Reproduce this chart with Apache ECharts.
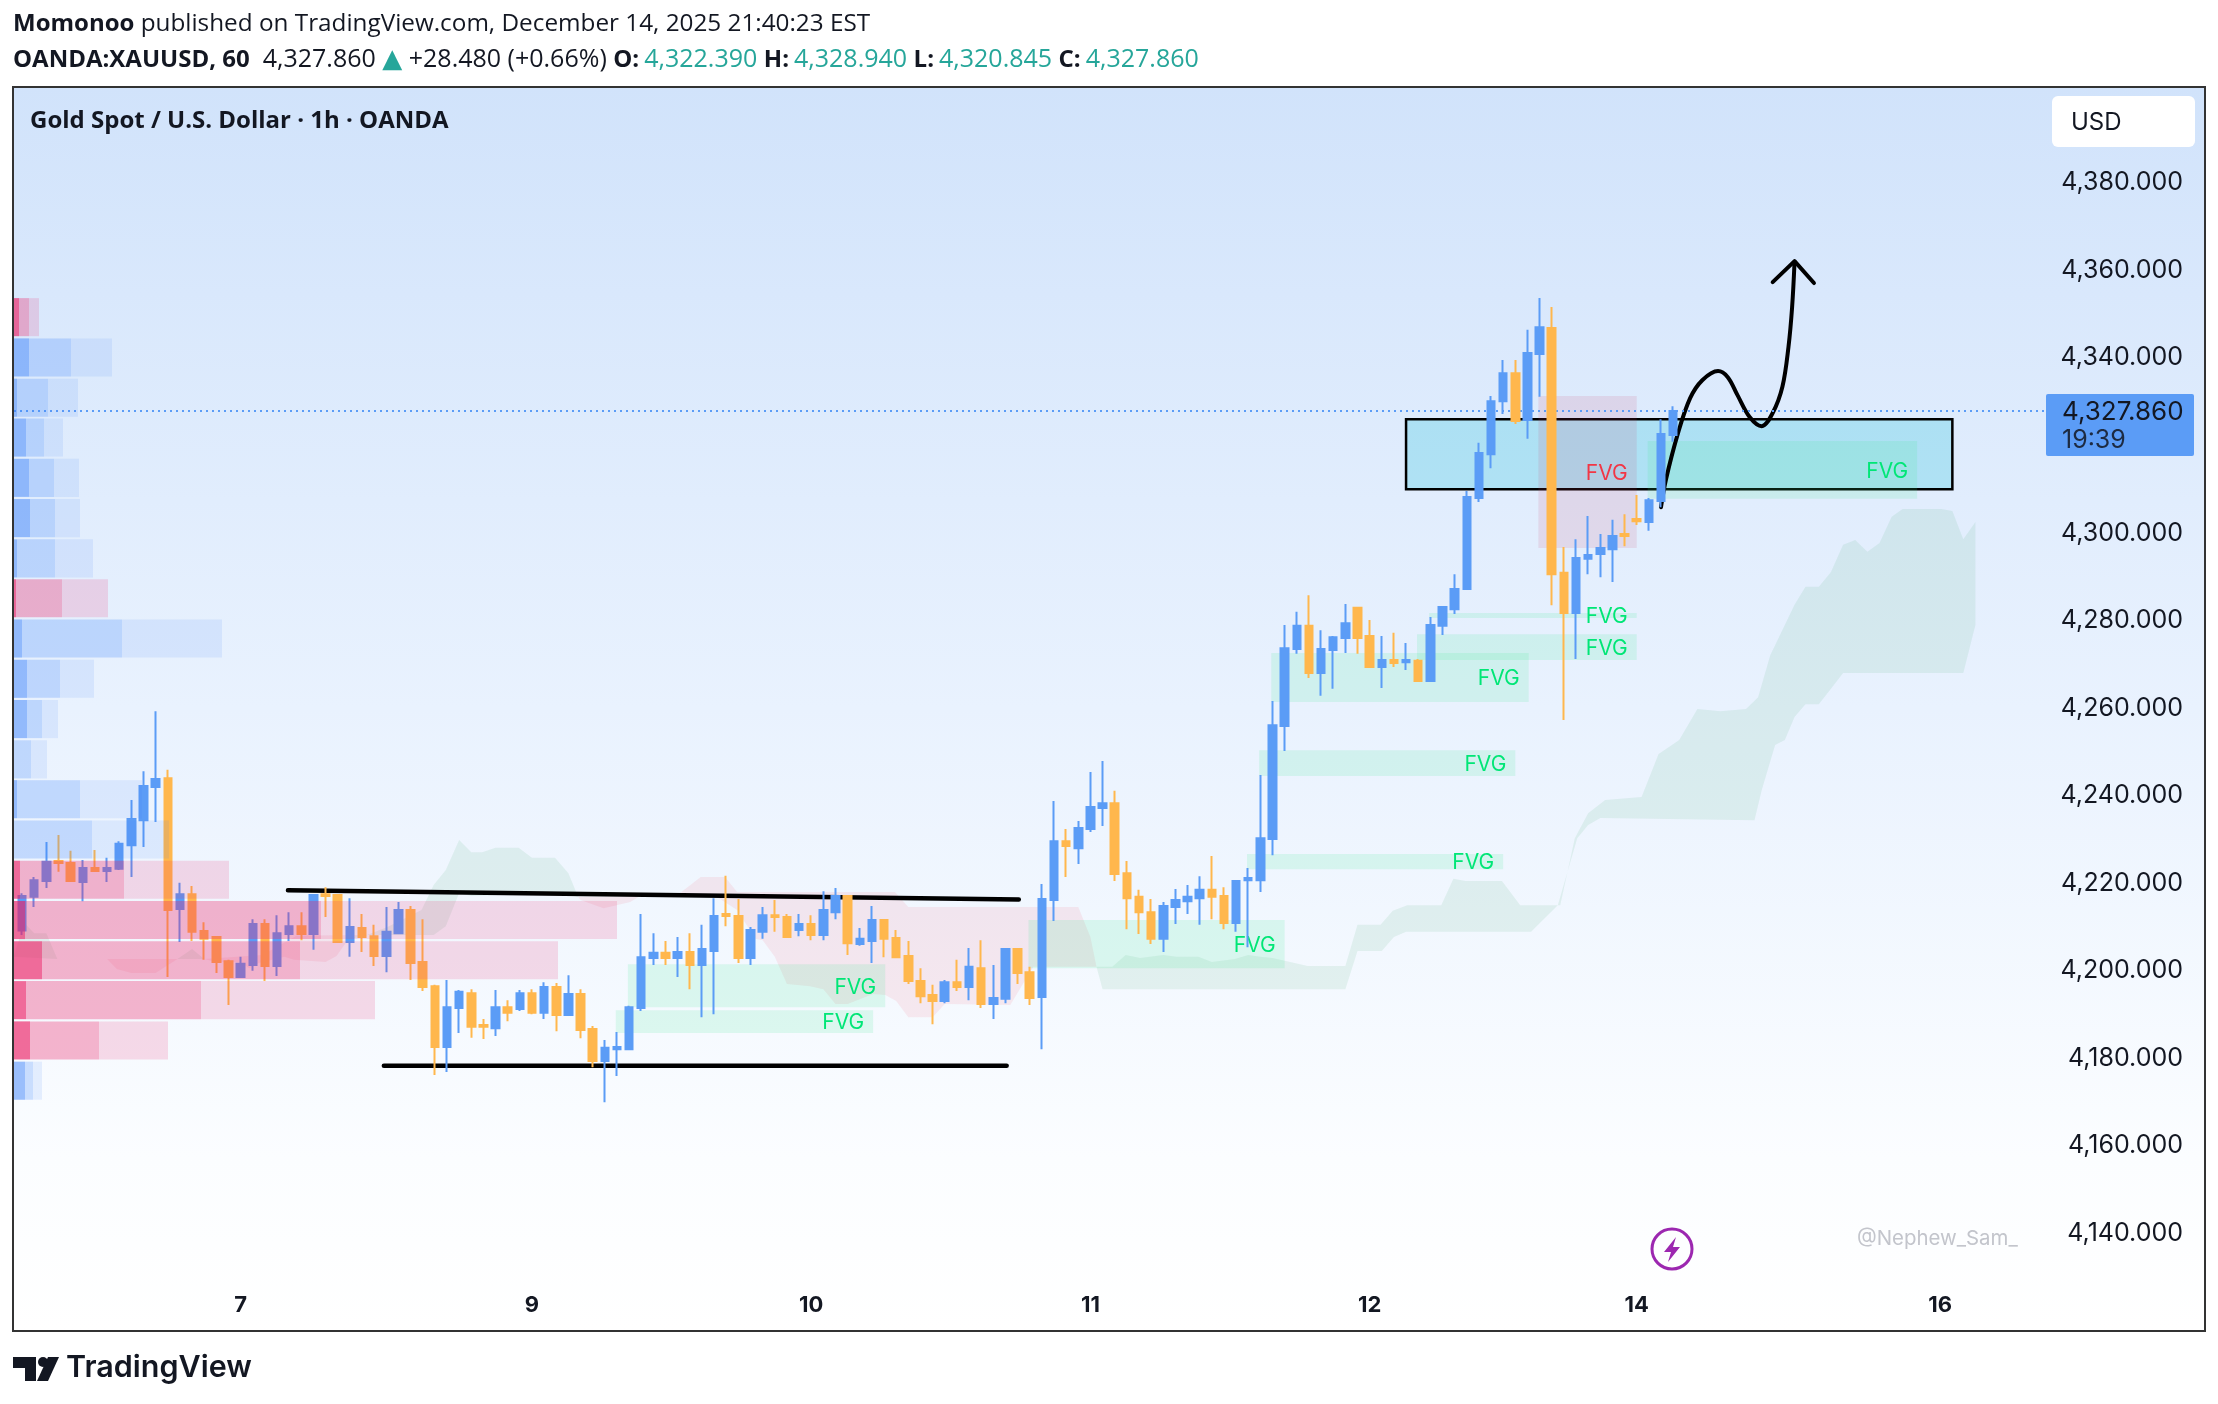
<!DOCTYPE html>
<html>
<head>
<meta charset="utf-8">
<title>XAUUSD 1h</title>
<script src="https://cdn.jsdelivr.net/npm/echarts@6/dist/echarts.min.js"></script>
<style>
html, body { margin: 0; padding: 0; background: #fff; }
#chart { width: 2218px; height: 1404px; }
</style>
</head>
<body>
<div id="chart"></div>
<script>
// hourly candles, one entry per bar
var candleOpen = [
    4209.2,4216.9,4220.5,4225.1,4224.6,4220.3,4223.5,4222.8,4223.3,4228.7,
    4234.4,4242.0,4244.0,4214.1,4217.5,4209.1,4207.7,4202.2,4198.6,4201.3,
    4210.7,4201.1,4208.4,4210.2,4208.4,4217.5,4217.3,4206.6,4209.8,4207.9,
    4203.4,4208.6,4213.9,4202.0,4196.5,4182.6,4191.5,4194.9,4187.6,4186.9,
    4191.7,4191.3,4194.9,4190.4,4196.3,4189.9,4194.7,4186.7,4179.4,4182.1,
    4182.1,4191.5,4202.9,4204.1,4202.9,4204.3,4201.3,4204.5,4213.0,4212.5,
    4202.9,4208.9,4212.7,4212.3,4209.3,4210.7,4208.2,4213.4,4217.1,4206.1,
    4206.8,4211.6,4207.5,4203.4,4197.7,4194.5,4193.1,4197.4,4196.3,4200.6,
    4192.4,4193.6,4205.0,4199.7,4194.0,4216.2,4229.6,4228.0,4232.4,4237.2,
    4238.3,4222.3,4216.9,4213.4,4207.3,4214.6,4215.9,4216.6,4218.5,4217.1,
    4210.9,4220.7,4220.7,4230.1,4255.9,4273.5,4278.8,4268.0,4273.3,4276.0,
    4282.9,4276.5,4269.4,4271.0,4270.5,4270.8,4266.2,4278.8,4282.6,4287.2,
    4308.0,4318.0,4330.1,4336.5,4325.8,4340.9,4346.8,4290.9,4281.7,4294.1,
    4295.2,4296.3,4299.8,4303.2,4302.5,4307.3,4322.39
];
var candleClose = [
    4217.1,4220.7,4224.9,4224.6,4220.5,4223.5,4222.8,4223.5,4229.0,4234.7,
    4242.2,4243.8,4213.9,4217.5,4208.9,4207.3,4202.0,4198.6,4201.6,4210.7,
    4201.1,4208.6,4210.2,4208.4,4217.3,4217.1,4206.6,4210.0,4207.7,4203.4,
    4208.9,4213.9,4201.8,4196.3,4182.6,4191.7,4195.2,4187.2,4187.2,4191.7,
    4190.4,4194.9,4190.4,4196.3,4189.9,4194.7,4186.5,4179.4,4182.4,4182.6,
    4191.7,4203.1,4204.1,4202.9,4204.3,4201.3,4205.0,4212.5,4212.5,4202.9,
    4209.3,4212.7,4212.3,4207.7,4210.7,4208.2,4213.9,4217.1,4206.3,4207.3,
    4211.6,4207.3,4203.1,4197.7,4194.2,4193.1,4197.4,4196.3,4200.9,4192.4,
    4193.8,4205.0,4199.5,4193.8,4216.4,4229.6,4228.5,4232.6,4237.4,4238.3,
    4222.1,4216.6,4213.4,4207.3,4214.8,4216.2,4216.9,4218.5,4216.9,4210.9,
    4220.5,4221.2,4230.3,4256.1,4273.7,4278.8,4268.0,4273.5,4276.2,4279.4,
    4276.0,4269.4,4271.0,4270.3,4271.0,4266.2,4279.0,4283.1,4287.2,4308.2,
    4318.3,4330.1,4336.5,4325.6,4341.1,4347.0,4290.6,4281.7,4294.3,4295.0,
    4296.6,4299.3,4299.3,4302.7,4307.5,4322.6,4327.86
];
var candleLow = [
    4208.2,4214.6,4218.9,4222.6,4220.5,4215.9,4222.6,4220.3,4223.0,4221.4,
    4228.3,4234.0,4198.6,4206.6,4206.8,4202.5,4199.5,4192.2,4198.6,4200.0,
    4197.7,4198.8,4206.8,4207.0,4204.8,4212.3,4206.4,4203.2,4204.3,4201.1,
    4199.7,4208.6,4197.9,4195.4,4176.2,4176.9,4185.8,4184.7,4184.4,4185.1,
    4188.5,4190.8,4190.1,4189.0,4186.2,4189.9,4184.6,4178.0,4170.0,4176.0,
    4182.1,4190.8,4201.3,4201.3,4198.6,4195.8,4189.4,4190.1,4210.2,4201.8,
    4201.3,4207.3,4208.9,4207.5,4207.9,4207.0,4207.0,4211.8,4203.6,4205.7,
    4201.8,4203.1,4203.1,4197.0,4192.6,4187.8,4192.6,4195.4,4193.3,4191.5,
    4189.0,4192.6,4197.0,4192.2,4182.1,4211.4,4221.4,4224.4,4231.7,4233.1,
    4220.5,4209.5,4208.4,4206.1,4204.3,4210.7,4213.0,4210.5,4211.8,4209.5,
    4208.9,4205.4,4218.0,4226.4,4250.2,4272.4,4266.9,4262.8,4264.4,4272.6,
    4272.4,4269.2,4264.6,4269.4,4268.7,4266.2,4266.2,4276.7,4281.5,4287.2,
    4307.1,4314.8,4327.2,4324.9,4321.5,4331.1,4283.5,4257.3,4271.2,4290.6,
    4289.9,4288.8,4297.0,4301.8,4300.5,4305.9,4320.845
];
var candleHigh = [
    4217.7,4221.4,4229.4,4231.0,4227.4,4225.3,4227.6,4225.8,4229.6,4239.0,
    4245.6,4259.3,4245.9,4220.1,4219.4,4211.1,4207.7,4202.5,4203.2,4211.8,
    4211.8,4212.7,4213.4,4213.4,4217.3,4219.1,4217.5,4216.6,4213.0,4210.5,
    4214.6,4215.7,4214.8,4211.8,4196.8,4197.9,4195.6,4195.8,4189.0,4195.6,
    4193.3,4195.6,4195.8,4197.4,4197.2,4199.0,4195.8,4187.4,4184.2,4186.0,
    4192.0,4213.0,4208.6,4206.8,4207.7,4208.6,4210.5,4216.6,4221.7,4216.4,
    4210.0,4214.6,4216.2,4213.0,4213.0,4212.7,4218.2,4218.9,4217.3,4209.8,
    4214.8,4211.8,4209.3,4206.8,4200.6,4196.8,4197.9,4202.5,4205.2,4207.0,
    4201.3,4205.2,4205.0,4200.9,4219.8,4238.8,4232.4,4234.2,4245.4,4247.9,
    4241.1,4225.1,4218.5,4216.4,4215.7,4218.7,4219.6,4221.6,4226.2,4219.1,
    4220.7,4223.5,4244.7,4261.6,4279.0,4282.0,4285.8,4277.8,4276.5,4283.8,
    4283.1,4280.1,4276.5,4277.2,4274.9,4271.2,4280.8,4283.3,4290.6,4309.6,
    4320.6,4331.3,4339.5,4339.5,4346.4,4353.7,4351.6,4296.8,4298.6,4303.9,
    4299.8,4303.0,4304.3,4308.7,4308.0,4326.0,4328.94
];

var lastPrice = 4327.86;
var priceTicks = [4140, 4160, 4180, 4200, 4220, 4240, 4260, 4280, 4300, 4340, 4360, 4380];
var dayBars = [18, 42, 65, 88, 111, 133, 158];
var dayNames = ['7', '9', '10', '11', '12', '14', '16'];
var slotCount = 180;

// fair value gaps: bar range and price range
var fvgStart  = [49.9, 48.9, 82.9, 100.9, 101.9, 102.9, 114.9, 115.9, 133.9, 124.9];
var fvgEnd    = [71.1, 70.1, 104.0, 122.0, 123.0, 124.1, 133.0, 133.0, 156.1, 133.0];
var fvgTop    = [4201.5, 4191.0, 4211.6, 4226.7, 4250.4, 4272.6, 4276.9, 4281.7, 4321.0, 4331.3];
var fvgBottom = [4191.7, 4185.8, 4200.6, 4223.2, 4244.5, 4261.4, 4271.0, 4280.6, 4307.8, 4296.6];
var fvgBearish = [0, 0, 0, 0, 0, 0, 0, 0, 0, 1];

// volume profile, one row per price bucket (centre price, then three nested widths)
var volPrice = [4349.3,4340.1,4330.9,4321.8,4312.6,4303.4,4294.2,4285.1,4275.9,4266.7,
                4257.5,4248.3,4239.2,4230.0,4220.8,4211.6,4202.4,4193.3,4184.1,4174.9];
var volInner = [5,15,3,12,15,16,3,2,8,13,13,0,3,0,6,11,28,12,16,11];
var volMiddle = [15,57,34,30,40,41,41,48,108,46,28,17,66,78,110,307,286,187,85,19];
var volOuter = [25,98,64,49,65,66,79,94,208,80,44,33,128,155,215,603,544,361,154,28];
var volBearish = [1,0,0,0,0,0,0,1,0,0,0,0,0,0,1,1,1,1,1,0];

// ichimoku cloud outlines as [bar, price]
var greenFarUpper = [[-0.7,4203.2],[0.2,4210.9],[1.0,4208.6],[2.0,4208.6],[2.9,4202.7]];
var greenFarLower = [[-0.7,4203.2],[2.9,4202.7]];
var pinkOneUpper = [[2.9,4202.7],[7.0,4202.7],[12.8,4202.7]];
var pinkOneLower = [[2.9,4202.7],[7.0,4202.7],[7.8,4200.4],[9.0,4199.5],[11.0,4199.5],[12.8,4202.7]];
var greenTinyUpper = [[12.8,4202.7],[14.0,4205.0],[15.0,4202.7]];
var greenTinyLower = [[12.8,4202.7],[15.0,4202.7]];
var pinkTwoUpper = [[15.0,4202.7],[19.8,4203.6],[22.6,4208.0],[27.7,4208.2]];
var pinkTwoLower = [[15.0,4202.7],[16.0,4202.0],[18.0,4202.0],[18.7,4200.6],[19.5,4201.8],[21.6,4203.2],
                    [22.4,4202.5],[25.0,4202.0],[25.9,4203.4],[26.9,4207.3],[27.7,4208.2]];
var greenOneUpper = [[26.9,4207.3],[28.0,4207.7],[30.1,4210.0],[32.9,4213.9],[33.9,4219.6],[34.9,4223.0],
                     [36.0,4229.9],[37.0,4227.1],[37.9,4227.1],[39.0,4228.1],[40.9,4228.1],[42.0,4225.8],
                     [43.9,4225.8],[45.0,4222.3],[45.8,4216.9]];
var greenOneLower = [[26.9,4207.3],[27.7,4208.2],[33.9,4208.2],[34.9,4210.2],[36.0,4217.8],[37.0,4217.1],
                     [44.1,4217.8],[45.8,4216.9]];
var pinkThreeUpper = [[45.8,4216.9],[50.9,4216.9],[54.2,4217.8],[55.9,4221.4],[57.9,4221.4],[58.9,4218.0],
                      [71.9,4218.0],[73.0,4214.6],[87.0,4214.6],[88.0,4207.7],[88.5,4200.9]];
var pinkThreeLower = [[45.8,4216.9],[46.0,4216.2],[47.9,4214.3],[50.1,4215.7],[50.9,4217.1],[54.2,4217.3],
                      [57.2,4216.9],[58.9,4213.9],[60.4,4207.3],[61.0,4207.0],[62.0,4203.2],[63.0,4197.0],
                      [64.9,4196.5],[66.0,4195.8],[67.0,4192.4],[68.0,4192.4],[70.1,4194.7],[71.1,4194.5],
                      [72.0,4193.1],[73.0,4189.4],[75.0,4189.4],[76.0,4192.4],[81.4,4192.2],[82.4,4196.8],
                      [83.3,4200.9],[88.5,4200.9]];
var greenMainUpper = [[88.5,4200.9],[89.8,4200.9],[90.9,4203.6],[92.1,4202.9],[94.0,4203.6],[95.1,4203.2],
                      [96.9,4203.2],[98.0,4202.0],[99.9,4202.7],[101.0,4203.6],[102.0,4203.2],[103.0,4202.9],
                      [105.9,4201.1],[109.0,4201.1],[110.0,4210.5],[111.9,4210.5],[112.9,4213.7],[114.1,4215.0],
                      [116.9,4215.0],[117.9,4221.0],[118.9,4220.5],[121.9,4220.5],[123.4,4215.0],[126.7,4215.0],
                      [127.9,4230.3],[129.0,4236.0],[130.4,4239.0],[133.4,4239.7],[134.8,4249.5],[135.9,4251.6],
                      [136.5,4252.7],[138.0,4259.8],[139.9,4259.3],[142.0,4259.8],[143.0,4262.5],[144.0,4272.1],
                      [146.0,4283.6],[146.9,4287.7],[148.0,4287.7],[149.0,4291.1],[150.0,4297.3],[151.0,4298.4],
                      [152.0,4295.7],[153.0,4297.7],[154.0,4303.7],[154.9,4305.5],[158.1,4305.5],[159.0,4305.0],
                      [159.9,4298.6],[160.9,4302.5]];
var greenMainLower = [[88.5,4200.9],[89.0,4195.8],[109.0,4195.8],[110.0,4204.5],[112.0,4204.5],[113.0,4207.7],
                      [114.0,4208.9],[124.3,4208.9],[126.5,4215.0],[128.1,4230.3],[129.0,4233.3],[130.0,4234.9],
                      [142.7,4234.4],[143.3,4241.3],[144.4,4251.6],[145.2,4252.7],[146.0,4258.0],[146.9,4260.9],
                      [148.0,4260.9],[149.0,4264.4],[150.0,4268.0],[159.9,4268.0],[160.9,4279.0]];

// hand drawn lines on the chart
var resistanceLine = [[21.9, 4218.4], [82.1, 4216.3]];
var supportLine = [[29.8, 4178.3], [81.1, 4178.3]];
var projectionPath = [[135.0,4305.9],[135.4,4312.1],[136.4,4322.8],[137.4,4330.8],[138.4,4334.9],[139.7,4337.0],
                      [140.5,4335.6],[141.3,4331.5],[142.3,4326.5],[143.3,4324.4],[144.2,4327.4],[145.0,4333.4],
                      [145.5,4342.5],[145.8,4351.6],[146.0,4361.9]];
var arrowHead = [[144.2, 4357.3], [146.0, 4362.1], [147.6, 4357.1]];
var boxBars = [114.0, 159.0];
var boxPrices = [4326.0, 4310.0];

var clouds = [
    { upper: greenFarUpper, lower: greenFarLower, bull: true },
    { upper: pinkOneUpper, lower: pinkOneLower, bull: false },
    { upper: greenTinyUpper, lower: greenTinyLower, bull: true },
    { upper: pinkTwoUpper, lower: pinkTwoLower, bull: false },
    { upper: greenOneUpper, lower: greenOneLower, bull: true },
    { upper: pinkThreeUpper, lower: pinkThreeLower, bull: false },
    { upper: greenMainUpper, lower: greenMainLower, bull: true }
];

var UP = '#5b9cf6', DOWN = '#ffb74d', INK = '#131722', TEAL = '#26a69a';
var PRICE_MIN = 4117.73, PRICE_MAX = 4401.87;
var AXIS_FONT = 'Inter, "Liberation Sans", sans-serif';
var HEAD_FONT = '"Open Sans", "Noto Sans", sans-serif';

var categories = [];
for (var s = 0; s < slotCount; s++) {
    var d = dayBars.indexOf(s);
    categories.push(d >= 0 ? dayNames[d] : '');
}
var candles = candleOpen.map(function (o, i) {
    return [o, candleClose[i], candleLow[i], candleHigh[i]];
});

function priceLabel(v) {
    return v.toFixed(3).replace(/\B(?=(\d{3})+(?!\d))(?=.*\.)/, ',');
}

function renderCloud(params, api) {
    var c = clouds[params.dataIndex];
    var pts = c.upper.concat(c.lower.slice().reverse()).map(function (p) {
        return api.coord(p);
    });
    return {
        type: 'polygon',
        shape: { points: pts },
        style: { fill: c.bull ? 'rgba(40,160,90,0.095)' : 'rgba(247,82,95,0.1)' }
    };
}

function renderFvg(params, api) {
    var i = params.dataIndex;
    var a = api.coord([fvgStart[i], fvgTop[i]]);
    var b = api.coord([fvgEnd[i], fvgBottom[i]]);
    var red = fvgBearish[i] === 1;
    return {
        type: 'group',
        children: [{
            type: 'rect',
            shape: { x: a[0], y: a[1], width: b[0] - a[0], height: b[1] - a[1] },
            style: { fill: red ? 'rgba(205,60,95,0.12)' : 'rgba(60,235,140,0.14)' }
        }, {
            type: 'text',
            z2: 5,
            style: {
                x: b[0] - 9, y: (a[1] + b[1]) / 2 + 1.5,
                text: 'FVG',
                fill: red ? '#f23645' : '#00e676',
                font: '21px ' + AXIS_FONT,
                align: 'right', verticalAlign: 'middle',
                textAlign: 'right', textVerticalAlign: 'middle'
            }
        }]
    };
}

function renderBox(params, api) {
    var a = api.coord([boxBars[0], boxPrices[0]]);
    var b = api.coord([boxBars[1], boxPrices[1]]);
    return {
        type: 'rect',
        shape: { x: a[0], y: a[1], width: b[0] - a[0], height: b[1] - a[1] },
        style: { fill: 'rgba(0,188,212,0.22)', stroke: '#000', lineWidth: 2.5 }
    };
}

function renderVolume(params, api) {
    var i = params.dataIndex;
    var top = api.coord([0, volPrice[i] + 4.35])[1];
    var bottom = api.coord([0, volPrice[i] - 4.35])[1];
    var base = volBearish[i] ? '237,30,100' : '60,130,250';
    var alphas = volBearish[i] ? [0.65, 0.32, 0.15] : [0.5, 0.25, 0.11];
    var edges = [0, volInner[i], volMiddle[i], volOuter[i]];
    var kids = [];
    for (var k = 0; k < 3; k++) {
        var l = api.coord([edges[k], volPrice[i]])[0];
        var r = api.coord([edges[k + 1], volPrice[i]])[0];
        kids.push({
            type: 'rect',
            shape: { x: l, y: top, width: r - l, height: bottom - top },
            style: { fill: 'rgba(' + base + ',' + alphas[k] + ')' }
        });
    }
    return { type: 'group', children: kids };
}

function renderPriceTag(params, api) {
    var y = api.coord([0, lastPrice])[1];
    return {
        type: 'group',
        children: [{
            type: 'rect',
            shape: { x: 2046, y: y - 17, width: 148, height: 62, r: [2, 2, 2, 2] },
            style: { fill: UP }
        }, {
            type: 'text',
            style: {
                x: 2062, y: y + 1, text: priceLabel(lastPrice), fill: INK, font: '26px ' + AXIS_FONT,
                align: 'left', verticalAlign: 'middle', textAlign: 'left', textVerticalAlign: 'middle'
            }
        }, {
            type: 'text',
            style: {
                x: 2062, y: y + 29, text: '19:39', fill: INK, font: '25px ' + AXIS_FONT, opacity: 0.85,
                align: 'left', verticalAlign: 'middle', textAlign: 'left', textVerticalAlign: 'middle'
            }
        }]
    };
}

function drawnLine(data, width, smooth) {
    return {
        type: 'line',
        xAxisIndex: 1,
        yAxisIndex: 0,
        data: data,
        z: 3,
        silent: true,
        showSymbol: false,
        smooth: smooth || false,
        lineStyle: { color: '#000', width: width, cap: 'round', join: 'round' }
    };
}

function indexList(arr) {
    return arr.map(function (v, i) { return [i, i]; });
}

var headRich = {
    b: { fontFamily: HEAD_FONT, fontWeight: 700, fontSize: 24, color: INK },
    l: { fontFamily: HEAD_FONT, fontWeight: 700, fontSize: 24, color: INK, padding: [0, 5, 0, 0] },
    p: { fontFamily: HEAD_FONT, fontWeight: 'normal', fontSize: 24.3, color: INK },
    n: { fontFamily: HEAD_FONT, fontWeight: 'normal', fontSize: 25, color: INK },
    t: { fontFamily: HEAD_FONT, fontWeight: 'normal', fontSize: 25, color: TEAL },
    a: { fontFamily: 'DejaVu Sans', fontWeight: 'normal', fontSize: 26, color: TEAL }
};

var option = {
    backgroundColor: '#ffffff',
    animation: false,
    title: [{
        left: 13, top: 12, padding: 0,
        text: '{b|Momonoo}{p| published on TradingView.com, December 14, 2025 21:40:23 EST}',
        textStyle: { rich: headRich, fontSize: 24, fontWeight: 'normal' }
    }, {
        left: 13, top: 47, padding: 0,
        text: '{b|OANDA:XAUUSD, 60}{n|  4,327.860 }{a|▲}{n| +28.480 (+0.66%) }{l|O:}{t|4,322.390 }{l|H:}{t|4,328.940 }{l|L:}{t|4,320.845 }{l|C:}{t|4,327.860}',
        textStyle: { rich: headRich, fontSize: 24, fontWeight: 'normal' }
    }, {
        left: 30, top: 109, padding: 0,
        text: 'Gold Spot / U.S. Dollar · 1h · OANDA',
        textStyle: { fontFamily: HEAD_FONT, fontWeight: 700, fontSize: 24, color: INK }
    }],
    grid: [
        { left: 16.03, top: 87, width: 2185.2, height: 1244, containLabel: false },
        {
            left: 13, top: 87, width: 2192, height: 1244, show: true,
            borderColor: '#333333', borderWidth: 2,
            backgroundColor: new echarts.graphic.LinearGradient(0, 0, 0, 1, [
                { offset: 0, color: '#d1e3fb' },
                { offset: 0.5, color: '#e9f2fe' },
                { offset: 0.86, color: '#fbfdff' },
                { offset: 1, color: '#ffffff' }
            ])
        }
    ],
    xAxis: [{
        type: 'category',
        gridIndex: 0,
        data: categories,
        boundaryGap: true,
        axisLine: { show: false },
        axisTick: { show: false },
        splitLine: { show: false },
        axisLabel: {
            inside: true,
            margin: 15,
            interval: function (index) { return dayBars.indexOf(index) >= 0; },
            color: INK,
            fontFamily: AXIS_FONT,
            fontWeight: 700,
            fontSize: 22
        }
    }, {
        type: 'value', gridIndex: 0, min: -0.5, max: slotCount - 0.5, show: false, splitLine: { show: false }
    }, {
        type: 'value', gridIndex: 1, min: -1, max: 2191, show: false, splitLine: { show: false }
    }],
    yAxis: [{
        type: 'value', gridIndex: 0, min: PRICE_MIN, max: PRICE_MAX, show: false, splitLine: { show: false }
    }, {
        type: 'value',
        gridIndex: 1,
        position: 'right',
        min: PRICE_MIN,
        max: PRICE_MAX,
        axisLine: { show: false },
        axisTick: { show: false },
        splitLine: { show: false },
        axisLabel: {
            inside: true,
            margin: 22,
            customValues: priceTicks,
            formatter: priceLabel,
            color: INK,
            fontFamily: AXIS_FONT,
            fontSize: 25,
            showMinLabel: true,
            showMaxLabel: true
        }
    }],
    series: [{
        type: 'custom', xAxisIndex: 1, yAxisIndex: 0, z: 1, silent: true,
        renderItem: renderCloud, data: indexList(clouds)
    }, {
        type: 'custom', xAxisIndex: 1, yAxisIndex: 0, z: 2, silent: true,
        renderItem: renderBox, data: [[boxBars[0], boxPrices[0]]]
    }, {
        type: 'custom', xAxisIndex: 1, yAxisIndex: 0, z: 2, silent: true,
        renderItem: renderFvg, data: indexList(fvgStart)
    },
        drawnLine(resistanceLine, 4.5),
        drawnLine(supportLine, 4.5),
        drawnLine(projectionPath, 4, 0.35),
        drawnLine(arrowHead, 4),
    {
        type: 'line', xAxisIndex: 2, yAxisIndex: 1, z: 4, silent: true, showSymbol: false,
        data: [[0, lastPrice], [2032, lastPrice]],
        lineStyle: { color: UP, width: 2, type: [2, 4] }
    }, {
        type: 'candlestick',
        xAxisIndex: 0,
        yAxisIndex: 0,
        z: 5,
        silent: true,
        barWidth: 8,
        data: candles,
        itemStyle: { color: UP, color0: DOWN, borderColor: UP, borderColor0: DOWN, borderWidth: 2 }
    }, {
        type: 'custom', xAxisIndex: 2, yAxisIndex: 1, z: 6, silent: true,
        renderItem: renderVolume, data: indexList(volPrice)
    }, {
        type: 'custom', xAxisIndex: 2, yAxisIndex: 1, z: 7, silent: true,
        renderItem: renderPriceTag, data: [[0, lastPrice]]
    }],
    graphic: [
        // currency button
        { type: 'rect', z: 20, shape: { x: 2052, y: 96, width: 143, height: 51, r: 6 }, style: { fill: '#ffffff' } },
        { type: 'text', z: 21, style: { x: 2071, y: 123, text: 'USD', fill: INK, font: '24px ' + AXIS_FONT, textVerticalAlign: 'middle', verticalAlign: 'middle' } },
        // watermark and flash icon
        { type: 'text', z: 21, style: { x: 1857, y: 1239, text: '@Nephew_Sam_', fill: '#c3c5cc', font: '20.4px ' + AXIS_FONT, textVerticalAlign: 'middle', verticalAlign: 'middle' } },
        { type: 'circle', z: 21, shape: { cx: 1672, cy: 1249, r: 20 }, style: { fill: 'none', stroke: '#9c27b0', lineWidth: 3 } },
        { type: 'polygon', z: 21, shape: { points: [[1676, 1237], [1664, 1252], [1671, 1252], [1668, 1262], [1680, 1247], [1673, 1247]] }, style: { fill: '#9c27b0' } },
        // TradingView wordmark
        { type: 'polygon', z: 21, shape: { points: [[13, 1357], [36, 1357], [36, 1381], [25, 1381], [25, 1368], [13, 1368]] }, style: { fill: INK } },
        { type: 'circle', z: 21, shape: { cx: 43, cy: 1362, r: 5 }, style: { fill: INK } },
        { type: 'polygon', z: 21, shape: { points: [[48, 1357], [59, 1357], [48, 1381], [37, 1381]] }, style: { fill: INK } },
        { type: 'text', z: 21, style: { x: 66, y: 1368, text: 'TradingView', fill: INK, font: '600 30.5px ' + AXIS_FONT, textVerticalAlign: 'middle', verticalAlign: 'middle' } }
    ]
};

var myChart = echarts.init(document.getElementById('chart'));
myChart.setOption(option);
</script>
</body>
</html>
